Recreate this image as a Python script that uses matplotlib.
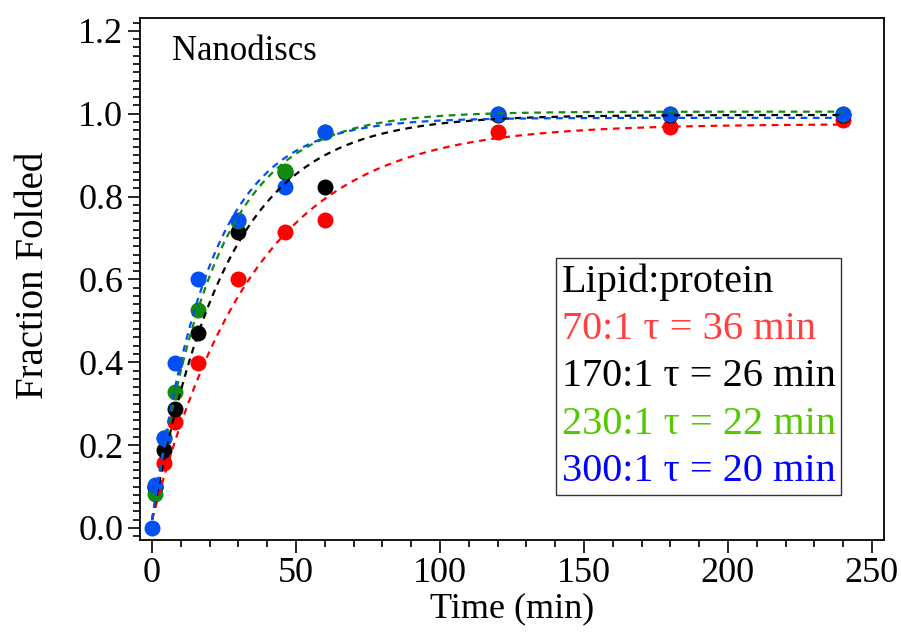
import numpy as np
import matplotlib
matplotlib.use("Agg")
import matplotlib.pyplot as plt
from matplotlib.lines import Line2D
from matplotlib.ticker import MultipleLocator, FormatStrFormatter

# measured points, one list per lipid:protein ratio
t_red = [1, 4, 8, 16, 30, 46, 60, 120, 180, 240]
y_red = [0.10, 0.156, 0.255, 0.399, 0.601, 0.714, 0.744, 0.956, 0.969, 0.984]
t_black = [1, 4, 8, 16, 30, 46, 60, 120, 180, 240]
y_black = [0.10, 0.187, 0.287, 0.470, 0.715, 0.86, 0.824, 0.998, 0.998, 0.998]
t_green = [1, 4, 8, 16, 30, 46, 60, 120, 180, 240]
y_green = [0.081, 0.216, 0.329, 0.525, 0.742, 0.862, 0.955, 1.0, 1.0, 1.0]
t_blue = [0, 1, 4, 8, 16, 30, 46, 60, 120, 180, 240]
y_blue = [0.0, 0.104, 0.216, 0.399, 0.601, 0.744, 0.823, 0.955, 1.0, 1.0, 1.0]

# exponential fits: y0 + A * (1 - exp(-t / tau))
tau = [36, 26, 22, 20]
amp = [0.955, 0.977, 0.985, 0.97]
y0 = [0.02, 0.02, 0.02, 0.02]

ratios = ["70:1", "170:1", "230:1", "300:1"]
point_colors = ["#ff0000", "#000000", "#108a10", "#0050f5"]
legend_colors = ["#ff4040", "#000000", "#55c800", "#0000ff"]

plt.rcParams["font.family"] = ["Liberation Serif", "DejaVu Serif"]

fig = plt.figure(figsize=(9.01, 6.41), dpi=100)
ax = fig.add_axes([0.1554, 0.1576, 0.8257, 0.8143])

series = [(t_red, y_red), (t_black, y_black), (t_green, y_green), (t_blue, y_blue)]
tt = np.linspace(0, 240, 400)
for i, (t, y) in enumerate(series):
    ax.plot(t, y, "o", color=point_colors[i], ms=11.5, mec="none", zorder=3 + i)
for i in range(4):
    fit = y0[i] + amp[i] * (1 - np.exp(-tt / tau[i]))
    ax.plot(tt, fit, "--", color=point_colors[i], lw=1.6, dashes=(3, 2.5), zorder=8)

ax.set_xlim(-4.2, 254.2)
ax.set_ylim(-0.029, 1.231)
ax.xaxis.set_major_locator(MultipleLocator(50))
ax.xaxis.set_minor_locator(MultipleLocator(10))
ax.yaxis.set_major_locator(MultipleLocator(0.2))
ax.yaxis.set_minor_locator(MultipleLocator(0.02))
ax.yaxis.set_major_formatter(FormatStrFormatter("%.1f"))
ax.xaxis.set_ticks_position("bottom")
ax.yaxis.set_ticks_position("left")
ax.tick_params(which="both", direction="out", width=1.2, labelsize=26,
               top=False, right=False)
ax.tick_params(which="major", length=9, pad=3)
ax.tick_params(which="minor", length=5)
for s in ax.spines.values():
    s.set_linewidth(1.3)

ax.set_xlabel("Time (min)", fontsize=26, labelpad=2)
ax.set_ylabel("Fraction Folded", fontsize=28)
ax.yaxis.set_label_coords(-0.118, 0.506)
ax.text(0.043, 0.935, "Nanodiscs", transform=ax.transAxes, fontsize=25,
        va="center", ha="left")

handles = [Line2D([], [], linestyle="none") for _ in ratios]
labels = [f"{r} τ = {t} min" for r, t in zip(ratios, tau)]
leg = ax.legend(handles, labels, title="Lipid:protein", loc="lower right",
                bbox_to_anchor=(0.942, 0.086), fontsize=29, title_fontsize=29,
                handlelength=0, handletextpad=0, labelspacing=0.25,
                labelcolor=legend_colors, fancybox=False, frameon=True,
                edgecolor="black", borderpad=0.13, borderaxespad=0,
                alignment="left")
leg.get_frame().set_linewidth(1.0)

fig.savefig("out.png", dpi=100)
